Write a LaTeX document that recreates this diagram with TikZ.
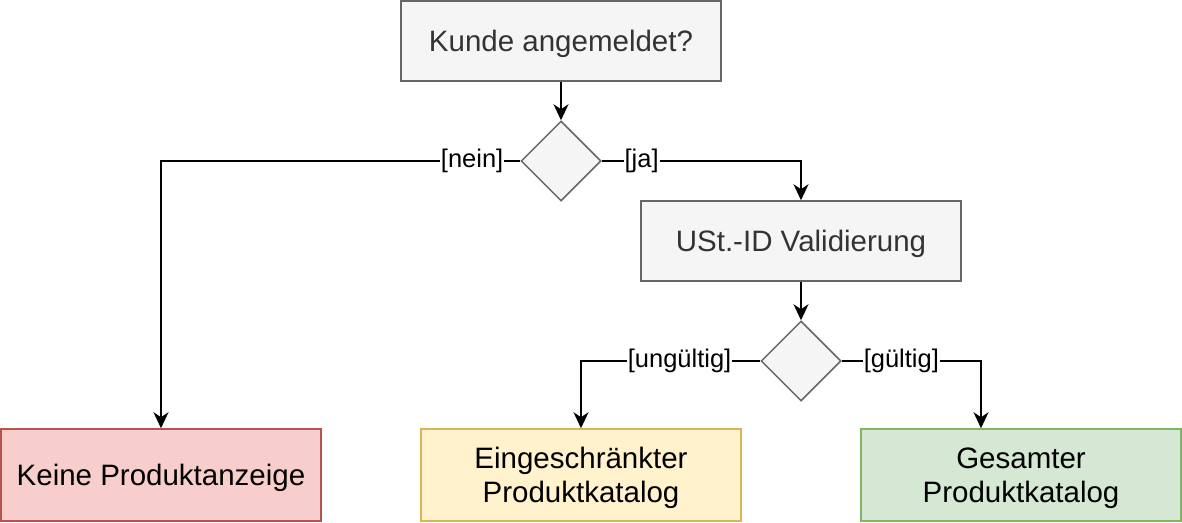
\documentclass[tikz,border=0pt]{standalone}
\usepackage{fontspec}
\setmainfont{Liberation Sans}
\usetikzlibrary{shapes.geometric,arrows.meta}
\definecolor{grayfill}{HTML}{F5F5F5}
\definecolor{graystroke}{HTML}{666666}
\definecolor{graytext}{HTML}{333333}
\definecolor{redfill}{HTML}{F8CECC}
\definecolor{redstroke}{HTML}{B85450}
\definecolor{yelfill}{HTML}{FFF2CC}
\definecolor{yelstroke}{HTML}{D6B656}
\definecolor{grnfill}{HTML}{D5E8D4}
\definecolor{grnstroke}{HTML}{82B366}
\tikzset{
  box/.style={rectangle, draw=graystroke, fill=grayfill, line width=1.5pt, minimum width=320pt, minimum height=80pt, inner sep=0pt, align=center, font=\fontsize{29.5}{34}\selectfont, text=graytext, text depth=0pt},
  endbox/.style={box, minimum height=92pt, text=black},
  dia/.style={diamond, draw=graystroke, fill=grayfill, line width=1.5pt, minimum width=80pt, minimum height=80pt, inner sep=0pt},
  arr/.style={draw=black, line width=1.6pt, -{Stealth[length=16pt,width=15pt,inset=5pt]}},
  lbl/.style={fill=white, inner sep=1pt, font=\fontsize{25.5}{30}\selectfont, text=black},
}
\begin{document}
\begin{tikzpicture}[x=1pt,y=-1pt]
\useasboundingbox (0,0) rectangle (1182,522);
\node[box] (a) at (561,41) {Kunde angemeldet?};
\node[dia] (d1) at (561,161) {};
\node[box] (b) at (801,241) {USt.-ID Validierung};
\node[dia] (d2) at (801,361) {};
\node[endbox, draw=redstroke, fill=redfill] (k) at (161,475) {Keine Produktanzeige};
\node[endbox, draw=yelstroke, fill=yelfill] (e) at (581,475) {Eingeschränkter\\Produktkatalog};
\node[endbox, draw=grnstroke, fill=grnfill] (g) at (1021,475) {Gesamter\\Produktkatalog};
\coordinate (gin) at ([xshift=-40pt]g.north);
\draw[arr] (a.south) -- (d1.north);
\draw[arr] (d1.west) -| node[lbl, pos=0.067] {[nein]} (k.north);
\draw[arr] (d1.east) -| node[lbl, pos=0.10] {[ja]} (b.north);
\draw[arr] (b.south) -- (d2.north);
\draw[arr] (d2.west) -| node[lbl, pos=0.225] {[ungültig]} (e.north);
\draw[arr] (d2.east) -| node[lbl, pos=0.214] {[gültig]} (gin);
\end{tikzpicture}
\end{document}
